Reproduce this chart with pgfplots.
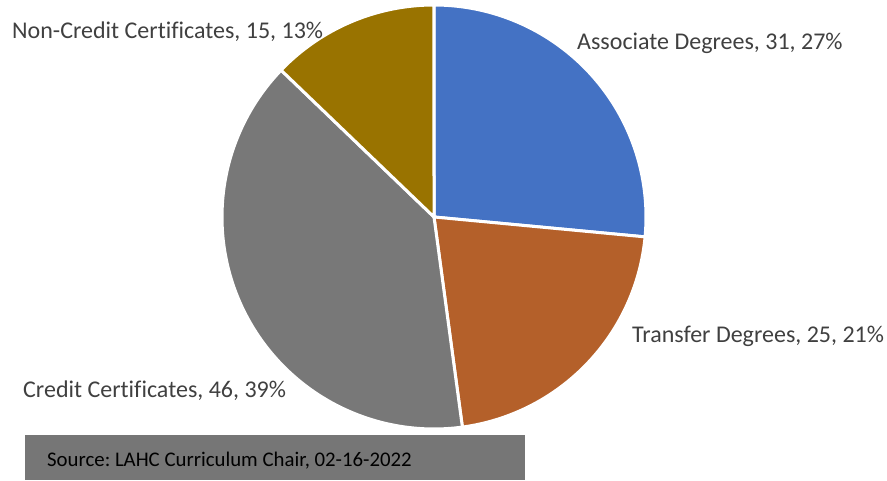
\documentclass[border=0pt]{standalone}
\usepackage{pgfplots}
\pgfplotsset{compat=1.18}
\usepackage{fontspec}
\setmainfont{Carlito}[Ligatures=CommonOff]
\frenchspacing
\definecolor{cA}{HTML}{4472C4}
\definecolor{cB}{HTML}{B4602A}
\definecolor{cC}{HTML}{787878}
\definecolor{cD}{HTML}{997300}
\definecolor{txt}{HTML}{404040}
\definecolor{srcgray}{HTML}{767676}
\begin{document}
\begin{tikzpicture}
% values: Associate 31, Transfer 25, Credit 46, Non-Credit 15
\pgfmathsetmacro{\vA}{31}
\pgfmathsetmacro{\vB}{25}
\pgfmathsetmacro{\vC}{46}
\pgfmathsetmacro{\vD}{15}
\pgfmathsetmacro{\tot}{\vA+\vB+\vC+\vD}
\pgfmathsetmacro{\aA}{90}
\pgfmathsetmacro{\aB}{\aA-360*(\vA/\tot)}
\pgfmathsetmacro{\aC}{\aB-360*(\vB/\tot)}
\pgfmathsetmacro{\aD}{\aC-360*(\vC/\tot)}
\pgfmathsetmacro{\aE}{\aD-360*(\vD/\tot)}
\begin{axis}[width=887pt,height=481pt,scale only axis,
  xmin=0,xmax=887,ymin=0,ymax=481,hide axis,clip=false]
\path (0,0) rectangle (887,481);
\addplot[fill=cA,draw=white,line width=3pt,line join=round,domain=\aB:\aA,samples=90,variable=\t]
  ({434+212*cos(\t)},{264+212*sin(\t)}) -- (434,264) -- cycle;
\addplot[fill=cB,draw=white,line width=3pt,line join=round,domain=\aC:\aB,samples=90,variable=\t]
  ({434+212*cos(\t)},{264+212*sin(\t)}) -- (434,264) -- cycle;
\addplot[fill=cC,draw=white,line width=3pt,line join=round,domain=\aD:\aC,samples=120,variable=\t]
  ({434+212*cos(\t)},{264+212*sin(\t)}) -- (434,264) -- cycle;
\addplot[fill=cD,draw=white,line width=3pt,line join=round,domain=\aE:\aD,samples=60,variable=\t]
  ({434+212*cos(\t)},{264+212*sin(\t)}) -- (434,264) -- cycle;
\begin{scope}[every node/.style={text=txt,font=\fontsize{24}{28}\selectfont,anchor=base west,inner sep=0pt}]
\node at (577,431) {Associate Degrees, 31, 27\%};
\node at (12,442) {Non-Credit Certificates, 15, 13\%};
\node at (632,138) {Transfer Degrees, 25, 21\%};
\node at (23,83) {Credit Certificates, 46, 39\%};
\end{scope}
\fill[srcgray] (25,1) rectangle (525,46);
\node[anchor=base west,inner sep=0pt,text=black,font=\fontsize{20.8}{24}\selectfont] at (47,14) {Source: LAHC Curriculum Chair, 02-16-2022};
\end{axis}
\end{tikzpicture}
\end{document}
